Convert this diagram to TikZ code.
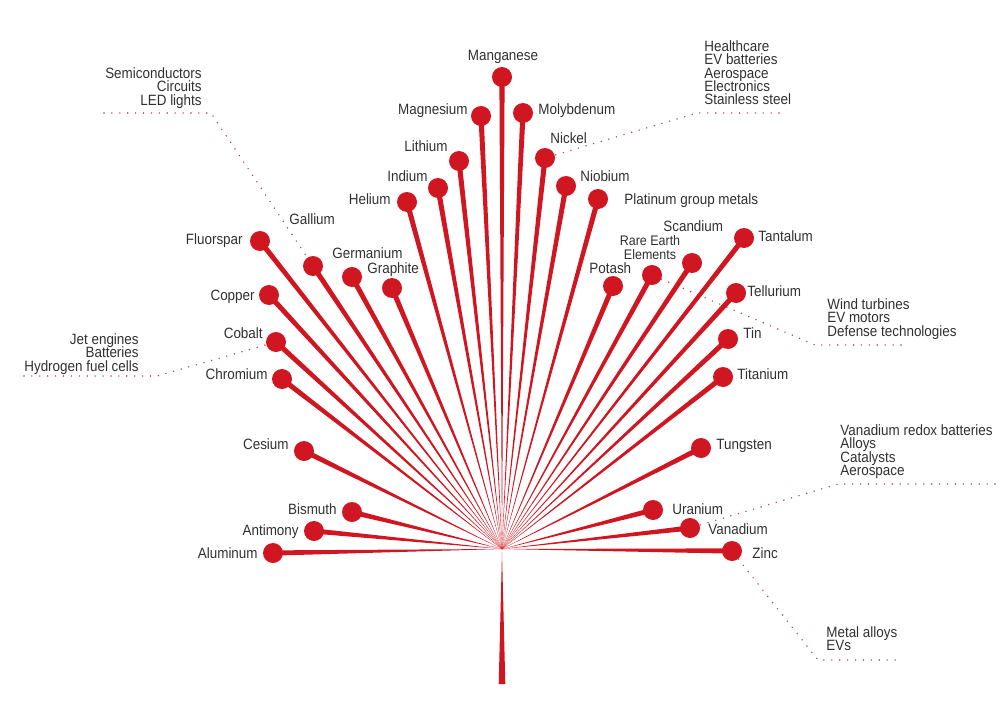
\documentclass[tikz,border=0pt]{standalone}
\usepackage{fontspec}
\setmainfont{Liberation Sans}[FakeStretch=0.9]
\usetikzlibrary{calc}
\definecolor{leafred}{RGB}{208,22,32}
\definecolor{inkgray}{RGB}{48,48,48}
\setlength{\lineskiplimit}{-10pt}

\begin{document}
\begin{tikzpicture}[x=0.02cm,y=-0.02cm,font=\fontsize{8.5}{7.65}\selectfont,text=inkgray,
  dot/.style={circle,fill=leafred,inner sep=0pt,minimum size=0.4cm},
  spoke/.style={fill=leafred},
  leader/.style={leafred!60!gray,line width=0.9pt,line cap=round,dash pattern=on 0pt off 4.5pt},
  lbl/.style={inner sep=0pt},
  note/.style={inner sep=0pt,align=#1},note/.default=left]
\useasboundingbox (0,0) rectangle (1000,703);
\coordinate (hub) at (502,549);
\coordinate (stem) at (502,684);
% end dots
\node[dot] (Mn) at (502,77) {};
\node[dot] (Mg) at (481,116) {};
\node[dot] (Li) at (459,161) {};
\node[dot] (In) at (438,188) {};
\node[dot] (He) at (407,202) {};
\node[dot] (Fl) at (260,241) {};
\node[dot] (Ga) at (313,266) {};
\node[dot] (Ge) at (352,277) {};
\node[dot] (Gr) at (392,288) {};
\node[dot] (Cu) at (269,295) {};
\node[dot] (Co) at (276,342) {};
\node[dot] (Cr) at (282,379) {};
\node[dot] (Cs) at (304,451) {};
\node[dot] (Bi) at (352,512) {};
\node[dot] (Sb) at (314,531) {};
\node[dot] (Al) at (273,553) {};
\node[dot] (Mo) at (523,113) {};
\node[dot] (Ni) at (545,158) {};
\node[dot] (Nb) at (566,186) {};
\node[dot] (PGM) at (598,199) {};
\node[dot] (Ta) at (744,238) {};
\node[dot] (Sc) at (692,263) {};
\node[dot] (REE) at (652,275) {};
\node[dot] (K) at (613,286) {};
\node[dot] (Te) at (736,293) {};
\node[dot] (Sn) at (728,339) {};
\node[dot] (Ti) at (723,377) {};
\node[dot] (W) at (701,448) {};
\node[dot] (U) at (653,510) {};
\node[dot] (V) at (690,528) {};
\node[dot] (Zn) at (732,551) {};
% spokes, thin at the hub
\fill[spoke] (hub) -- ($(Mn.center)!1.5pt!90:(hub)$) -- ($(Mn.center)!1.5pt!-90:(hub)$) -- cycle;
\fill[spoke] (hub) -- ($(Mg.center)!1.5pt!90:(hub)$) -- ($(Mg.center)!1.5pt!-90:(hub)$) -- cycle;
\fill[spoke] (hub) -- ($(Li.center)!1.5pt!90:(hub)$) -- ($(Li.center)!1.5pt!-90:(hub)$) -- cycle;
\fill[spoke] (hub) -- ($(In.center)!1.5pt!90:(hub)$) -- ($(In.center)!1.5pt!-90:(hub)$) -- cycle;
\fill[spoke] (hub) -- ($(He.center)!1.5pt!90:(hub)$) -- ($(He.center)!1.5pt!-90:(hub)$) -- cycle;
\fill[spoke] (hub) -- ($(Fl.center)!1.5pt!90:(hub)$) -- ($(Fl.center)!1.5pt!-90:(hub)$) -- cycle;
\fill[spoke] (hub) -- ($(Ga.center)!1.5pt!90:(hub)$) -- ($(Ga.center)!1.5pt!-90:(hub)$) -- cycle;
\fill[spoke] (hub) -- ($(Ge.center)!1.5pt!90:(hub)$) -- ($(Ge.center)!1.5pt!-90:(hub)$) -- cycle;
\fill[spoke] (hub) -- ($(Gr.center)!1.5pt!90:(hub)$) -- ($(Gr.center)!1.5pt!-90:(hub)$) -- cycle;
\fill[spoke] (hub) -- ($(Cu.center)!1.5pt!90:(hub)$) -- ($(Cu.center)!1.5pt!-90:(hub)$) -- cycle;
\fill[spoke] (hub) -- ($(Co.center)!1.5pt!90:(hub)$) -- ($(Co.center)!1.5pt!-90:(hub)$) -- cycle;
\fill[spoke] (hub) -- ($(Cr.center)!1.5pt!90:(hub)$) -- ($(Cr.center)!1.5pt!-90:(hub)$) -- cycle;
\fill[spoke] (hub) -- ($(Cs.center)!1.5pt!90:(hub)$) -- ($(Cs.center)!1.5pt!-90:(hub)$) -- cycle;
\fill[spoke] (hub) -- ($(Bi.center)!1.5pt!90:(hub)$) -- ($(Bi.center)!1.5pt!-90:(hub)$) -- cycle;
\fill[spoke] (hub) -- ($(Sb.center)!1.5pt!90:(hub)$) -- ($(Sb.center)!1.5pt!-90:(hub)$) -- cycle;
\fill[spoke] (hub) -- ($(Al.center)!1.5pt!90:(hub)$) -- ($(Al.center)!1.5pt!-90:(hub)$) -- cycle;
\fill[spoke] (hub) -- ($(Mo.center)!1.5pt!90:(hub)$) -- ($(Mo.center)!1.5pt!-90:(hub)$) -- cycle;
\fill[spoke] (hub) -- ($(Ni.center)!1.5pt!90:(hub)$) -- ($(Ni.center)!1.5pt!-90:(hub)$) -- cycle;
\fill[spoke] (hub) -- ($(Nb.center)!1.5pt!90:(hub)$) -- ($(Nb.center)!1.5pt!-90:(hub)$) -- cycle;
\fill[spoke] (hub) -- ($(PGM.center)!1.5pt!90:(hub)$) -- ($(PGM.center)!1.5pt!-90:(hub)$) -- cycle;
\fill[spoke] (hub) -- ($(Ta.center)!1.5pt!90:(hub)$) -- ($(Ta.center)!1.5pt!-90:(hub)$) -- cycle;
\fill[spoke] (hub) -- ($(Sc.center)!1.5pt!90:(hub)$) -- ($(Sc.center)!1.5pt!-90:(hub)$) -- cycle;
\fill[spoke] (hub) -- ($(REE.center)!1.5pt!90:(hub)$) -- ($(REE.center)!1.5pt!-90:(hub)$) -- cycle;
\fill[spoke] (hub) -- ($(K.center)!1.5pt!90:(hub)$) -- ($(K.center)!1.5pt!-90:(hub)$) -- cycle;
\fill[spoke] (hub) -- ($(Te.center)!1.5pt!90:(hub)$) -- ($(Te.center)!1.5pt!-90:(hub)$) -- cycle;
\fill[spoke] (hub) -- ($(Sn.center)!1.5pt!90:(hub)$) -- ($(Sn.center)!1.5pt!-90:(hub)$) -- cycle;
\fill[spoke] (hub) -- ($(Ti.center)!1.5pt!90:(hub)$) -- ($(Ti.center)!1.5pt!-90:(hub)$) -- cycle;
\fill[spoke] (hub) -- ($(W.center)!1.5pt!90:(hub)$) -- ($(W.center)!1.5pt!-90:(hub)$) -- cycle;
\fill[spoke] (hub) -- ($(U.center)!1.5pt!90:(hub)$) -- ($(U.center)!1.5pt!-90:(hub)$) -- cycle;
\fill[spoke] (hub) -- ($(V.center)!1.5pt!90:(hub)$) -- ($(V.center)!1.5pt!-90:(hub)$) -- cycle;
\fill[spoke] (hub) -- ($(Zn.center)!1.5pt!90:(hub)$) -- ($(Zn.center)!1.5pt!-90:(hub)$) -- cycle;
% stem
\fill[spoke] ($(hub)+(0,3)$) -- ($(stem)+(-3.3,0)$) -- ($(stem)+(3.3,0)$) -- cycle;
% element names
\node[lbl,anchor=base] (Mn-t) at (503,60) {Manganese};
\node[lbl,anchor=base east] (Mg-t) at (468,114) {Magnesium};
\node[lbl,anchor=base east] (Li-t) at (448,151) {Lithium};
\node[lbl,anchor=base east] (In-t) at (428,181) {Indium};
\node[lbl,anchor=base east] (He-t) at (391,204) {Helium};
\node[lbl,anchor=base west] (Ga-t) at (289,224) {Gallium};
\node[lbl,anchor=base east] (Fl-t) at (243,244) {Fluorspar};
\node[lbl,anchor=base west] (Ge-t) at (332,258) {Germanium};
\node[lbl,anchor=base west] (Gr-t) at (367,273) {Graphite};
\node[lbl,anchor=base east] (Cu-t) at (255,300) {Copper};
\node[lbl,anchor=base east] (Co-t) at (263,338) {Cobalt};
\node[lbl,anchor=base east] (Cr-t) at (268,379) {Chromium};
\node[lbl,anchor=base east] (Cs-t) at (289,449) {Cesium};
\node[lbl,anchor=base east] (Bi-t) at (337,514) {Bismuth};
\node[lbl,anchor=base east] (Sb-t) at (299,535) {Antimony};
\node[lbl,anchor=base east] (Al-t) at (258,558) {Aluminum};
\node[lbl,anchor=base west] (Mo-t) at (538,114) {Molybdenum};
\node[lbl,anchor=base west] (Ni-t) at (550,143) {Nickel};
\node[lbl,anchor=base west] (Nb-t) at (580,181) {Niobium};
\node[lbl,anchor=base west] (PGM-t) at (624,204) {Platinum group metals};
\node[lbl,anchor=base west] (Sc-t) at (663,231) {Scandium};
\node[lbl,anchor=north,align=center,font=\fontsize{7.9}{7.9}\selectfont] (REE-t) at (650,235) {Rare Earth\\Elements};
\node[lbl,anchor=base west] (K-t) at (589,273) {Potash};
\node[lbl,anchor=base west] (Ta-t) at (758,241) {Tantalum};
\node[lbl,anchor=base west] (Te-t) at (747,296) {Tellurium};
\node[lbl,anchor=base west] (Sn-t) at (743,338) {Tin};
\node[lbl,anchor=base west] (Ti-t) at (737,379) {Titanium};
\node[lbl,anchor=base west] (W-t) at (716,449) {Tungsten};
\node[lbl,anchor=base west] (U-t) at (672,514) {Uranium};
\node[lbl,anchor=base west] (V-t) at (708,534) {Vanadium};
\node[lbl,anchor=base west] (Zn-t) at (752,558) {Zinc};
% uses
\node[note=right,anchor=north east] (semi) at (202,67) {Semiconductors\\Circuits\\LED lights};
\node[note,anchor=north west] (health) at (704,40) {Healthcare\\EV batteries\\Aerospace\\Electronics\\Stainless steel};
\node[note,anchor=north west] (wind) at (827,298) {Wind turbines\\EV motors\\Defense technologies};
\node[note=right,anchor=north east] (jet) at (139,333) {Jet engines\\Batteries\\Hydrogen fuel cells};
\node[note,anchor=north west] (redox) at (840,424) {Vanadium redox batteries\\Alloys\\Catalysts\\Aerospace};
\node[note,anchor=north west] (metal) at (826,626) {Metal alloys\\EVs};
\coordinate (semi-a) at (104,113);
\coordinate (semi-b) at (211,113);
\coordinate (health-a) at (779,113);
\coordinate (health-b) at (697,113);
\coordinate (wind-a) at (815,345);
\coordinate (wind-b) at (902,345);
\coordinate (jet-a) at (24,376);
\coordinate (jet-b) at (157,376);
\coordinate (redox-a) at (995,484);
\coordinate (redox-b) at (838,484);
\coordinate (metal-a) at (818,660);
\coordinate (metal-b) at (900,660);
\draw[leader] (semi-a) -- (semi-b) -- (Ga);
\draw[leader] (health-a) -- (health-b) -- (Ni);
\draw[leader] (REE) -- (wind-a) -- (wind-b);
\draw[leader] (jet-a) -- (jet-b) -- (Co);
\draw[leader] (redox-a) -- (redox-b) -- (V);
\draw[leader] (Zn) -- (metal-a) -- (metal-b);
\end{tikzpicture}
\end{document}
